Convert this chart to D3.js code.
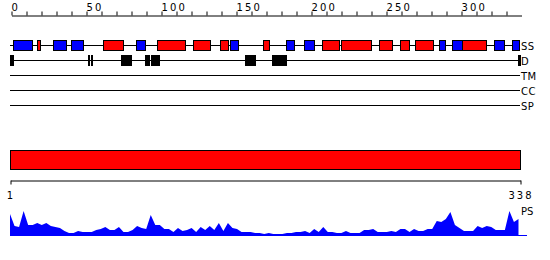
<!DOCTYPE html>
<html>
<head>
<meta charset="utf-8">
<script src="https://cdn.jsdelivr.net/npm/d3@7"></script>
<style>
  body { margin: 0; background: #fff; }
  text { font-family: "DejaVu Sans", sans-serif; font-size: 10px; fill: #000; }
</style>
</head>
<body>
<div id="chart"></div>
<script>
// sequence length and track names
var seqLength = 338;
var trackNames = ["SS", "D", "TM", "CC", "SP"];

// secondary structure: [start, end, type]  H = helix (red), E = strand (blue)
var ssSegments = [
  [1.5, 14, "E"], [17.5, 19.5, "H"], [28, 36.5, "E"], [40, 48, "E"],
  [61.5, 75, "H"], [83, 89, "E"], [97.5, 116, "H"], [121, 132, "H"],
  [139, 144.5, "H"], [146, 151, "E"], [168, 172, "H"], [183.5, 188.5, "E"],
  [195.5, 202, "E"], [207.5, 218.5, "H"], [220, 240, "H"], [245, 253.5, "H"],
  [259, 265, "H"], [269, 281, "H"], [285, 289, "E"], [294, 300.5, "E"],
  [301, 317, "H"], [322, 328.5, "E"], [334, 338.5, "E"]
];

// disordered regions: [start, end]
var disSegments = [
  [-0.5, 2], [51.5, 52.5], [53.5, 54.5], [73, 80], [89, 92],
  [93, 99], [156, 163], [174, 184], [338, 340]
];

// domain bar
var domainBars = [[1, 338]];

// PS profile, one value every 3 residues (1, 4, 7, ... 337)
var psStart = 1, psStep = 3;
var psValues = [
  85, 38, 35, 96, 42, 42, 50, 42, 50, 38,
  35, 31, 19, 12, 12, 19, 15, 15, 15, 23,
  27, 35, 23, 23, 35, 15, 15, 23, 38, 31,
  27, 81, 42, 42, 27, 27, 15, 31, 19, 23,
  31, 15, 35, 23, 38, 23, 50, 19, 50, 31,
  27, 15, 15, 15, 12, 12, 8, 12, 8, 8,
  8, 12, 12, 15, 15, 19, 12, 27, 15, 35,
  15, 15, 12, 12, 19, 12, 12, 12, 23, 23,
  27, 15, 15, 15, 19, 15, 27, 27, 15, 27,
  19, 19, 27, 27, 58, 54, 65, 92, 42, 31,
  19, 19, 19, 38, 31, 38, 35, 23, 23, 23,
  96, 54, 65
];

var rulerTicks = d3.range(0, 331, 10);
var colors = { H: "#ff0000", E: "#0000ff" };

var width = 550, height = 260;
var svg = d3.select("#chart").append("svg")
    .attr("width", width)
    .attr("height", height);

var x = d3.scaleLinear().domain([0, 340]).range([11, 521]);
var xb = d3.scaleLinear().domain([1, seqLength]).range([10, 520]);
var trackY = d3.scalePoint().domain(trackNames).range([45, 105]);

// top ruler
var ruler = svg.append("g")
    .attr("transform", "translate(0.5,15.5)")
    .call(d3.axisTop(x)
      .tickValues(rulerTicks)
      .tickSize(4)
      .tickSizeOuter(0)
      .tickFormat(function(d) { return d % 50 === 0 ? d : ""; }));
ruler.select(".domain").attr("stroke", "#000");
ruler.selectAll(".tick line").attr("stroke", "#000");
ruler.selectAll(".tick text")
    .attr("text-anchor", "start")
    .attr("x", -0.5)
    .attr("y", -5)
    .attr("dy", 0)
    .style("letter-spacing", "2.2px")
    .style("font-size", "10px")
    .style("font-family", "DejaVu Sans");

// track lines + labels
svg.selectAll(".track")
  .data(trackNames)
  .enter().append("line")
    .attr("x1", xb.range()[0])
    .attr("x2", xb.range()[1])
    .attr("y1", function(d) { return trackY(d) + 0.5; })
    .attr("y2", function(d) { return trackY(d) + 0.5; })
    .attr("stroke", "#000");

svg.selectAll(".tlabel")
  .data(trackNames)
  .enter().append("text")
    .attr("x", 521)
    .attr("y", function(d) { return trackY(d) + 4.5; })
    .style("letter-spacing", "0.5px")
    .text(function(d) { return d; });

// secondary structure boxes
svg.selectAll(".ss")
  .data(ssSegments)
  .enter().append("rect")
    .attr("x", function(d) { return Math.round(x(d[0])) + 0.5; })
    .attr("width", function(d) { return Math.round(x(d[1]) - x(d[0])); })
    .attr("y", trackY("SS") - 4.5)
    .attr("height", 10)
    .attr("fill", function(d) { return colors[d[2]]; })
    .attr("stroke", "#000");

// disorder boxes
svg.selectAll(".dis")
  .data(disSegments)
  .enter().append("rect")
    .attr("x", function(d) { return Math.round(x(d[0])); })
    .attr("width", function(d) { return Math.max(2, Math.round(x(d[1]) - x(d[0]))); })
    .attr("y", trackY("D") - 5)
    .attr("height", 11)
    .attr("fill", "#000");

// domain bar
svg.selectAll(".dom")
  .data(domainBars)
  .enter().append("rect")
    .attr("x", function(d) { return xb(d[0]) + 0.5; })
    .attr("width", function(d) { return xb(d[1]) - xb(d[0]); })
    .attr("y", 150.5)
    .attr("height", 19)
    .attr("fill", "#ff0000")
    .attr("stroke", "#000");

// bottom axis
var bottom = svg.append("g")
    .attr("transform", "translate(0.5,180.5)")
    .call(d3.axisBottom(xb)
      .tickValues([1, seqLength])
      .tickSize(4)
      .tickSizeOuter(0));
bottom.select(".domain").attr("stroke", "#000");
bottom.selectAll(".tick line").attr("stroke", "#000");
bottom.selectAll(".tick text")
    .attr("y", 18)
    .attr("dy", 0)
    .style("letter-spacing", "2px")
    .style("font-size", "10px")
    .style("font-family", "DejaVu Sans");

// PS profile
var yps = d3.scaleLinear().domain([0, 100]).range([236, 210]);
var psData = psValues.map(function(v, i) { return { pos: psStart + i * psStep, v: v }; });

svg.append("path")
    .datum(psData)
    .attr("fill", "#0000ff")
    .attr("d", d3.area()
      .x(function(d) { return xb(d.pos); })
      .y0(yps(0))
      .y1(function(d) { return yps(d.v); }));

svg.append("line")
    .attr("x1", 10).attr("x2", 527)
    .attr("y1", 235.5).attr("y2", 235.5)
    .attr("stroke", "#0000ff");

svg.append("text")
    .attr("x", 521)
    .attr("y", 215)
    .text("PS");
</script>
</body>
</html>
